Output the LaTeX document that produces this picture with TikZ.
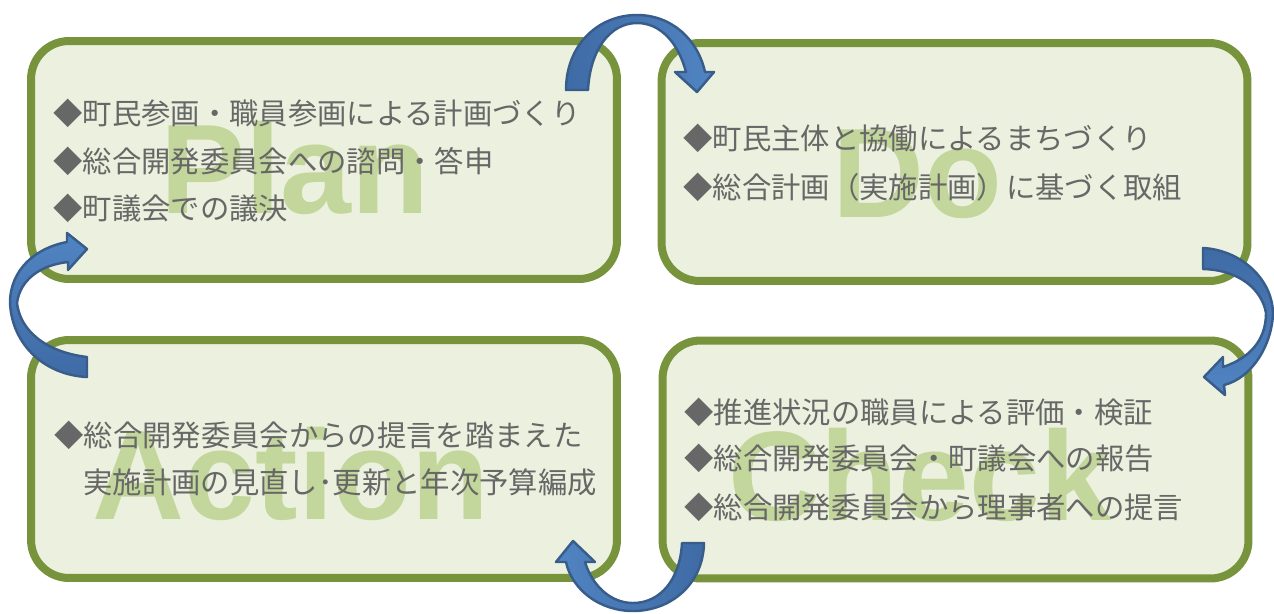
\documentclass[tikz,border=0pt]{standalone}
\usepackage{fontspec}
\setmainfont{Liberation Sans}
\newfontfamily\jpfont{Noto Sans CJK JP}
\usetikzlibrary{positioning}
\definecolor{boxline}{HTML}{77933C}
\definecolor{boxfill}{HTML}{EBF1DE}
\definecolor{wordgreen}{HTML}{C3D69B}
\definecolor{itemgray}{HTML}{676767}
\definecolor{arrowline}{HTML}{385D8A}
\definecolor{arrowdark}{HTML}{3F6BA5}
\definecolor{arrowlight}{HTML}{5084C2}
\tikzset{
    phasebox/.style={rectangle, draw=boxline, fill=boxfill, line width=0.16cm, rounded corners=0.76cm, minimum width=11.72cm, minimum height=4.76cm},
    bigword/.style={anchor=base, inner sep=0pt, text=wordgreen, font=\fontsize{72.5pt}{73pt}\selectfont\bfseries},
    itemline/.style={anchor=west, inner sep=0pt, text=itemgray, font=\jpfont\fontsize{16.7pt}{20pt}\selectfont},
    cyclearrow/.style={draw=arrowline, line width=1.4pt, line join=round}
}

\begin{document}
\begin{tikzpicture}[x=0.02cm, y=-0.02cm]
    \useasboundingbox (0,0) rectangle (1274,613);

    % the four phases
    \node [phasebox] (plan) at (324,160) {};
    \node [phasebox] (do) at (954.5,162) {};
    \node [phasebox] (action) at (324,459) {};
    \node [phasebox] (check) at (955.5,459.5) {};

    % large words behind the text
    \node [bigword] (planword) at (295,213) {Plan};
    \node [bigword] (doword) at (917,217) {Do};
    \node [bigword] (actionword) at (291,519) {Action};
    \node [bigword] (checkword) at (920,520) {Check};

    % Plan
    \node [itemline] (plan1) at (53,113) {◆町民参画・職員参画による計画づくり};
    \node [itemline] (plan2) at (53,161) {◆総合開発委員会への諮問・答申};
    \node [itemline] (plan3) at (53,208) {◆町議会での議決};
    % Do
    \node [itemline] (do1) at (683,138) {◆町民主体と協働によるまちづくり};
    \node [itemline] (do2) at (683,187) {◆総合計画（実施計画）に基づく取組};
    % Check
    \node [itemline] (check1) at (684,412) {◆推進状況の職員による評価・検証};
    \node [itemline] (check2) at (684,458) {◆総合開発委員会・町議会への報告};
    \node [itemline] (check3) at (684,507) {◆総合開発委員会から理事者への提言};
    % Action
    \node [itemline] (action1) at (54,435) {◆総合開発委員会からの提言を踏まえた};
    \node [itemline] (action2) at (83,482) {実施計画の見直し･更新と年次予算編成};

    % curved arrows between the phases
    \path [cyclearrow, left color=arrowdark, right color=arrowlight]
        (566,90) .. controls (566,45) and (598,15) .. (637,15)
        .. controls (672,15) and (698,40) .. (705,72) -- (714,72) -- (697,92) -- (675,72) -- (686,72)
        .. controls (678,42) and (660,23) .. (637,23)
        .. controls (610,23) and (590,50) .. (588,90) -- cycle;
    \path [cyclearrow, top color=arrowdark, bottom color=arrowlight]
        (1203,248) .. controls (1240,250) and (1272,278) .. (1273,313)
        .. controls (1272,345) and (1252,378) .. (1224,385) -- (1225,395) -- (1204,377) -- (1223,357) -- (1223,367)
        .. controls (1250,358) and (1266,340) .. (1266,313)
        .. controls (1262,290) and (1240,270) .. (1203,269) -- cycle;
    \path [cyclearrow, left color=arrowlight, right color=arrowdark]
        (704,543) .. controls (703,585) and (670,611) .. (633,611)
        .. controls (600,611) and (572,590) .. (566,562) -- (556,562) -- (573,541) -- (595,562) -- (585,562)
        .. controls (592,585) and (610,603) .. (633,603)
        .. controls (660,603) and (680,580) .. (682,543) -- cycle;
    \path [cyclearrow, top color=arrowlight, bottom color=arrowdark]
        (87,357) .. controls (45,352) and (20,330) .. (17,303)
        .. controls (20,280) and (40,265) .. (68,262) -- (68,270) -- (87,249) -- (67,233) -- (67,242)
        .. controls (35,248) and (10,270) .. (10,303)
        .. controls (12,345) and (45,375) .. (87,377) -- cycle;
\end{tikzpicture}
\end{document}
